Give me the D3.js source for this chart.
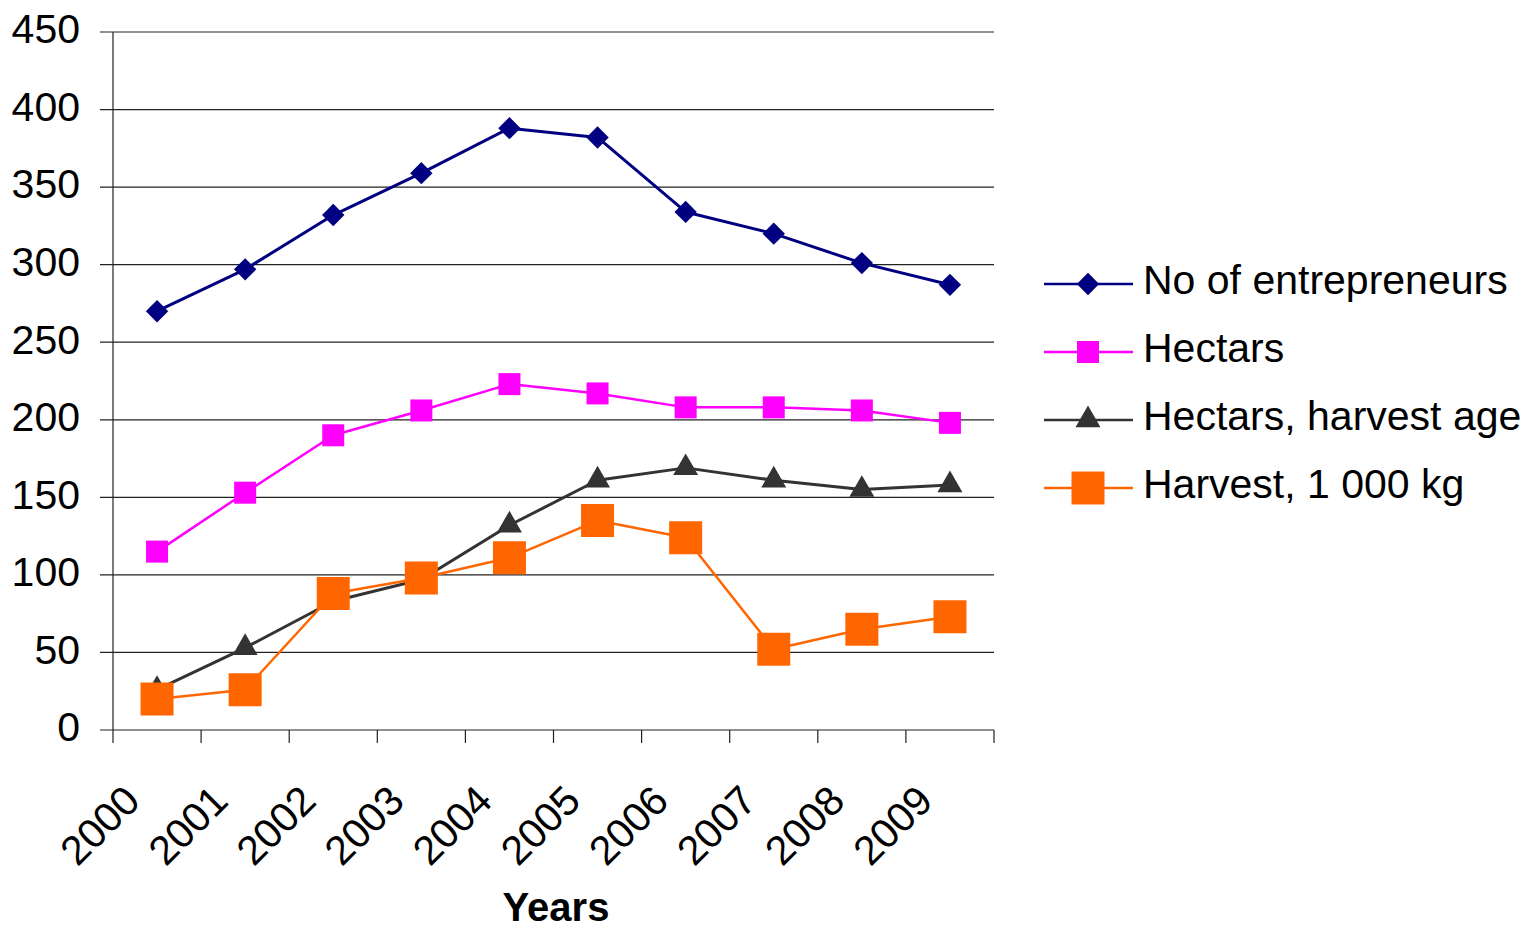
<!DOCTYPE html>
<html>
<head>
<meta charset="utf-8">
<script src="https://cdn.jsdelivr.net/npm/d3@7"></script>
<style>
  body { margin: 0; background: #fff; }
  svg { display: block; font-family: "Liberation Sans", Arial, sans-serif; }
</style>
</head>
<body>
<div id="chart"></div>
<script>
const years = ["2000", "2001", "2002", "2003", "2004", "2005", "2006", "2007", "2008", "2009"];
const entrepreneurs = [270, 297, 332, 359, 388, 382, 334, 320, 301, 287];
const hectars = [115, 153, 190, 206, 223, 217, 208, 208, 206, 198];
const hectarsHarvestAge = [26, 53, 83, 97, 132, 161, 169, 161, 155, 158];
const harvest = [20, 26, 88, 98, 111, 135, 124, 52, 65, 73];
const yTicks = [0, 50, 100, 150, 200, 250, 300, 350, 400, 450];

const series = [
  { name: "No of entrepreneurs", values: entrepreneurs, color: "#000080", width: 3, symbol: "diamond", size: 250 },
  { name: "Hectars", values: hectars, color: "#ff00ff", width: 2.5, symbol: "square", size: 484 },
  { name: "Hectars, harvest age", values: hectarsHarvestAge, color: "#333333", width: 3, symbol: "triangle", size: 270 },
  { name: "Harvest, 1 000 kg", values: harvest, color: "#ff6600", width: 2.5, symbol: "square", size: 1089 },
];

const width = 1528, height = 930;
const plot = { left: 113, right: 994, top: 32, bottom: 730 };

const x = d3.scaleBand(years, [plot.left, plot.right]);
const y = d3.scaleLinear([0, 450], [plot.bottom, plot.top]);

const svg = d3
  .select("#chart")
  .append("svg")
  .attr("width", width)
  .attr("height", height);

// Horizontal grid lines with short ticks on the left.
svg
  .append("g")
  .selectAll("line")
  .data(yTicks)
  .join("line")
  .attr("x1", plot.left - 13)
  .attr("x2", plot.right)
  .attr("y1", (d) => y(d))
  .attr("y2", (d) => y(d))
  .attr("stroke", "#222")
  .attr("stroke-width", 1.2);

// Y tick labels.
svg
  .append("g")
  .selectAll("text")
  .data(yTicks)
  .join("text")
  .attr("x", 80)
  .attr("y", (d) => y(d) - 3)
  .attr("dy", "0.35em")
  .attr("text-anchor", "end")
  .attr("font-size", 41)
  .text((d) => d);

// Y axis line.
svg
  .append("line")
  .attr("x1", plot.left)
  .attr("x2", plot.left)
  .attr("y1", plot.top)
  .attr("y2", plot.bottom)
  .attr("stroke", "#222")
  .attr("stroke-width", 1.2);

// X tick marks at category boundaries.
const boundaries = years.map((d) => x(d)).concat([plot.right]);
svg
  .append("g")
  .selectAll("line")
  .data(boundaries)
  .join("line")
  .attr("x1", (d) => d)
  .attr("x2", (d) => d)
  .attr("y1", plot.bottom)
  .attr("y2", plot.bottom + 13)
  .attr("stroke", "#222")
  .attr("stroke-width", 1.2);

// Rotated year labels.
svg
  .append("g")
  .selectAll("text")
  .data(years)
  .join("text")
  .attr("transform", (d) => `translate(${x(d) + x.bandwidth() / 2 - 15},${plot.bottom + 73}) rotate(-45)`)
  .attr("text-anchor", "end")
  .attr("font-size", 41)
  .text((d) => d);

// X axis title.
svg
  .append("text")
  .attr("x", 556)
  .attr("y", 921)
  .attr("text-anchor", "middle")
  .attr("font-size", 40)
  .attr("font-weight", "bold")
  .text("Years");

const symbolPath = (s) => {
  const type = s.symbol === "triangle" ? d3.symbolTriangle : d3.symbolSquare;
  return d3.symbol(type, s.size)();
};
const symbolRotate = (s) => (s.symbol === "diamond" ? " rotate(45)" : "");

const line = d3
  .line()
  .x((d, i) => x(years[i]) + x.bandwidth() / 2)
  .y((d) => y(d));

// Lines and markers for each series.
series.forEach((s) => {
  const g = svg.append("g");
  g.append("path")
    .attr("fill", "none")
    .attr("stroke", s.color)
    .attr("stroke-width", s.width)
    .attr("stroke-linejoin", "round")
    .attr("d", line(s.values));
  g.selectAll("path.marker")
    .data(s.values)
    .join("path")
    .attr("class", "marker")
    .attr("transform", (d, i) => `translate(${x(years[i]) + x.bandwidth() / 2},${y(d)})${symbolRotate(s)}`)
    .attr("fill", s.color)
    .attr("d", symbolPath(s));
});

// Legend.
const legend = svg
  .append("g")
  .selectAll("g")
  .data(series)
  .join("g")
  .attr("transform", (d, i) => `translate(1044,${284 + i * 68})`);

legend
  .append("line")
  .attr("x1", 0)
  .attr("x2", 89)
  .attr("stroke", (d) => d.color)
  .attr("stroke-width", 2.5);

legend
  .append("path")
  .attr("transform", (d) => `translate(44,0)${symbolRotate(d)}`)
  .attr("fill", (d) => d.color)
  .attr("d", (d) => symbolPath(d));

legend
  .append("text")
  .attr("x", 99)
  .attr("y", 10)
  .attr("font-size", 41)
  .text((d) => d.name);
</script>
</body>
</html>
